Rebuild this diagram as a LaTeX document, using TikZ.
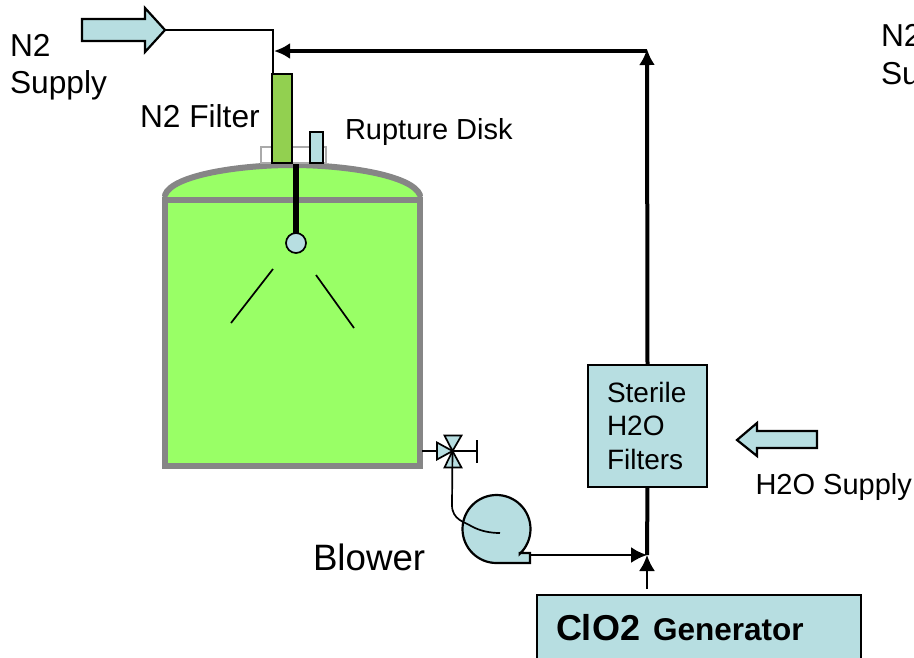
\documentclass[tikz,border=0pt]{standalone}
\usepackage{fontspec}
\setmainfont{Liberation Sans}
\usetikzlibrary{arrows.meta}
\definecolor{pale}{HTML}{B7DEE1}
\definecolor{tankgreen}{HTML}{99FF66}
\definecolor{filtergreen}{HTML}{92D050}
\definecolor{wall}{HTML}{868686}
\tikzset{
  txt/.style={anchor=base west,inner sep=0pt,outer sep=0pt,align=left,text=black},
  palebox/.style={draw=black,fill=pale,line width=2.2pt,inner sep=0pt,outer sep=0pt},
  thinpipe/.style={draw=black,line width=1.7pt},
  thickpipe/.style={draw=black,line width=4pt},
  wallline/.style={draw=wall,line width=6pt},
  headed/.style={-{Latex[length=16pt,width=16pt]}},
}
\newcommand{\fs}[1]{\fontsize{#1}{#1}\selectfont}
\begin{document}
\begin{tikzpicture}[x=1pt,y=-1pt]
\useasboundingbox (0,0) rectangle (914,657);
\clip (0,0) rectangle (914,657);
% tank
\fill[tankgreen] (165,198) .. controls (172,175) and (240,165) .. (292,165) .. controls (345,165) and (412,175) .. (420,198) -- cycle;
\draw[wallline,line cap=round] (165,195) .. controls (172,175) and (240,165) .. (292,165) .. controls (345,165) and (412,175) .. (420,195);
\node[draw=wall,fill=tankgreen,line width=6pt,minimum width=255pt,minimum height=266pt,inner sep=0pt,outer sep=0pt] (tank) at (292.5,333) {};
% flange
\node[draw=wall!70,line width=1.7pt,fill=white,minimum width=65pt,minimum height=16pt,inner sep=0pt] (flange) at (293.5,155) {};
% filter and rupture disk
\node[palebox,fill=filtergreen,minimum width=20pt,minimum height=89pt] (filter) at (282,118.5) {};
\node[palebox,minimum width=13pt,minimum height=31pt] (disk) at (316.5,147.5) {};
% spray ball
\node[palebox,circle,minimum size=20pt,line width=1.7pt] (ball) at (296,243) {};
\coordinate (dip) at (296,164);
\draw[draw=black,line width=6pt] (dip) -- (ball.north);
\coordinate (sprayAa) at (273,269); \coordinate (sprayAb) at (231,323);
\coordinate (sprayBa) at (316,275); \coordinate (sprayBb) at (354,328);
\draw[thinpipe] (sprayAa) -- (sprayAb);
\draw[thinpipe] (sprayBa) -- (sprayBb);
% N2 arrow
\draw[fill=pale,draw=black,line width=2.2pt] (82,19) -- (145,19) -- (145,8) -- (165,30) -- (145,52) -- (145,41) -- (82,41) -- cycle;
\coordinate (n2tip) at (165,30);
\coordinate (corner) at (273,30);
\coordinate (filtertop) at (273,74);
\draw[thinpipe] (n2tip) -- (corner) -- (filtertop);
% sterile filter and generator
\node[palebox,minimum width=119pt,minimum height=122pt] (sterile) at (647.5,426) {};
\node[palebox,minimum width=324pt,minimum height=106pt] (gen) at (699,648) {};
% main line
\coordinate (top) at (647,49);
\coordinate (inlet) at (274,51);
\coordinate (topcorner) at (647,51);
\coordinate (join) at (647,555);
\coordinate (genout) at (647,589);
\draw[thickpipe,headed] (sterile.north) -- (top);
\draw[thickpipe,headed] (topcorner) -- (inlet);
\draw[thickpipe] (sterile.south) -- (join);
\draw[thinpipe,line width=2.2pt,headed] (genout) -- (join);
% blower
\filldraw[fill=pale,draw=black,line width=2.2pt] (519.8,553) -- (530,553) -- (530,563) -- (496.5,563) arc[start angle=270,delta angle=-316.8,radius=34pt] -- cycle;
\coordinate (blowerout) at (530,555);
\draw[thinpipe,line width=2.2pt,headed] (blowerout) -- (join);
% valve
\coordinate (valve) at (452.5,451);
\coordinate (tankout) at (422,451);
\coordinate (stem) at (477,451);
\coordinate (stemA) at (477,440); \coordinate (stemB) at (477,463);
\draw[thinpipe] (tankout) -- (stem);
\draw[thinpipe] (stemA) -- (stemB);
\filldraw[fill=pale,draw=black,line width=1.7pt] (valve) -- (444.5,435.5) -- (461.5,435.5) -- cycle;
\filldraw[fill=pale,draw=black,line width=1.7pt] (valve) -- (444.5,467.5) -- (461.5,467.5) -- cycle;
\filldraw[fill=pale,draw=black,line width=1.7pt] (valve) -- (437,442.5) -- (437,459.5) -- cycle;
\draw[thinpipe] (valve) -- (452,505) .. controls (452,520) and (465,522) .. (471,526) .. controls (480,531) and (490,533) .. (500,533);
% H2O arrow
\draw[fill=pale,draw=black,line width=2.2pt] (817,431) -- (757,431) -- (757,423) -- (737,440) -- (757,456) -- (757,448) -- (817,448) -- cycle;
% text
\node[txt,font=\fs{31.7}] (t1) at (10,56) {N2};
\node[txt,font=\fs{31.7}] (t2) at (10,93) {Supply};
\node[txt,font=\fs{31.7}] (t3) at (140,127) {N2 Filter};
\node[txt,font=\fs{29}] (t4) at (345,139) {Rupture Disk};
\node[txt,font=\fs{36.7}] (t5) at (313,570) {Blower};
\node[txt,font=\fs{28}] (t6) at (607,402) {Sterile};
\node[txt,font=\fs{28}] (t7) at (607,435) {H2O};
\node[txt,font=\fs{28}] (t8) at (607,469) {Filters};
\node[txt,font=\fs{29}] (t9) at (755.5,494) {H2O Supply};
\node[txt,font=\fs{36}\bfseries] (t10) at (556,640) {ClO2};
\node[txt,font=\fs{31.5}\bfseries] (t11) at (653,640) {Generator};
\node[txt,font=\fs{31.7}] (t12) at (881,46) {N2};
\node[txt,font=\fs{31.7}] (t13) at (881,84) {Supply};
\end{tikzpicture}
\end{document}
